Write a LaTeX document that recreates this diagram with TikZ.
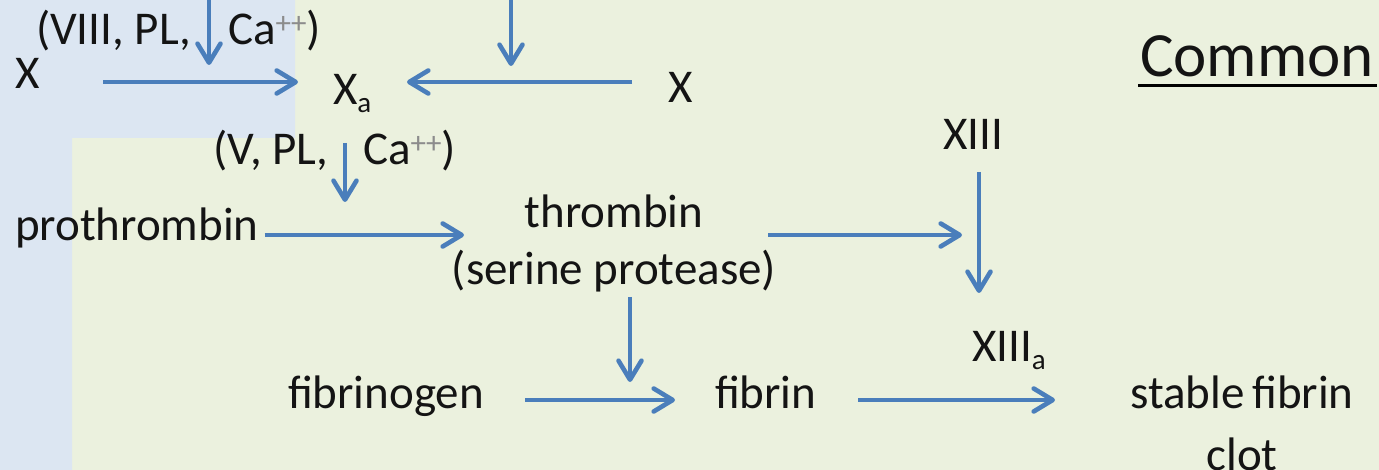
\documentclass[tikz,border=0pt]{standalone}
\usepackage{fontspec}
\setmainfont{Carlito}
\usetikzlibrary{arrows.meta}
\definecolor{bgblue}{HTML}{DCE6F2}
\definecolor{bggreen}{HTML}{EBF1DE}
\definecolor{flowblue}{HTML}{4A7EBB}
% small raised ion charge and lowered "activated" index
\newcommand\ionsup[1]{\raisebox{11pt}{\fontsize{31}{31}\selectfont\color{black!45}#1}}
\newcommand\actsub[1]{\raisebox{-8pt}{\fontsize{29}{29}\selectfont #1}}
\begin{document}
\begin{tikzpicture}[x=1pt,y=-1pt,
  lbl/.style={inner sep=0pt, outer sep=0pt, anchor=base west,
              font=\fontsize{47}{57}\selectfont, text=black!92},
  flow/.style={draw=flowblue, line width=4.6pt,
               -{Straight Barb[length=19pt,width=23pt,round]}},
]
\useasboundingbox (0,0) rectangle (1379,470);
% panel backgrounds: intrinsic (blue) and common (green) pathways
\fill[bggreen] (0,0) rectangle (1379,470);
\fill[bgblue] (0,0) -- (295,0) -- (295,138) -- (72,138) -- (72,470) -- (0,470) -- cycle;

% factors
\node[lbl] (X1) at (15,89) {X};
\node[lbl] (cof1a) at (36,45) {(VIII, PL,};
\node[lbl] (cof1b) at (228,45) {Ca\ionsup{++})};
\node[lbl] (Xa) at (333,105) {X\actsub{a}};
\node[lbl] (X2) at (668,103) {X};
\node[lbl] (cof2a) at (213,165) {(V, PL,};
\node[lbl] (cof2b) at (363,165) {Ca\ionsup{++})};
\node[lbl] (pro) at (15,241) {prothrombin};
\node[lbl, anchor=base] (thr) at (614,228)
  {\begin{tabular}[t]{@{}c@{}}thrombin\\(serine protease)\end{tabular}};
\node[lbl] (XIII) at (943,150) {XIII};
\node[lbl] (XIIIa) at (972,362) {XIII\actsub{a}};
\node[lbl] (fgn) at (288,408) {fibrinogen};
\node[lbl] (fib) at (715,408) {fibrin};
\node[lbl, anchor=base, font=\fontsize{47}{62}\selectfont] (clot) at (1242,408)
  {\begin{tabular}[t]{@{}c@{}}stable\hspace{-3pt} fibrin\\clot\end{tabular}};

% heading
\node[lbl, font=\fontsize{63}{70}\selectfont] (com) at (1140,77) {Common};
\draw[line width=3pt] ([xshift=-2pt,yshift=-9pt]com.base west) -- ([xshift=3pt,yshift=-9pt]com.base east);

% inputs entering from above
\coordinate (tenase) at (209,-4);
\coordinate (extrinsic) at (511,-4);

% reactions
\draw[flow] ([xshift=88pt,yshift=7pt]X1.base west) -- ([xshift=-35pt,yshift=23pt]Xa.base west);
\draw[flow] (tenase) -- ([xshift=-124pt,yshift=40pt]Xa.base west);
\draw[flow] ([xshift=-36pt,yshift=21pt]X2.base west) -- ([xshift=74pt,yshift=23pt]Xa.base west);
\draw[flow] (extrinsic) -- ([xshift=178pt,yshift=39pt]Xa.base west);
\draw[flow] ([xshift=12pt,yshift=-38pt]Xa.base west) -- ([xshift=330pt,yshift=39pt]pro.base west);
\draw[flow] ([xshift=6pt,yshift=6pt]pro.base east) -- ([xshift=-150pt,yshift=-7pt]thr.base);
\draw[flow] ([xshift=154pt,yshift=-7pt]thr.base) -- ([xshift=19pt,yshift=-85pt]XIII.base west);
\draw[flow] ([xshift=36pt,yshift=-22pt]XIII.base west) -- ([xshift=7pt,yshift=69pt]XIIIa.base west);
\draw[flow] ([xshift=16pt,yshift=-69pt]thr.base) -- ([xshift=-85pt,yshift=26pt]fib.base west);
\draw[flow] ([xshift=237pt,yshift=8pt]fgn.base west) -- ([xshift=-40pt,yshift=8pt]fib.base west);
\draw[flow] ([xshift=143pt,yshift=8pt]fib.base west) -- ([xshift=-187pt,yshift=8pt]clot.base);
\end{tikzpicture}
\end{document}
